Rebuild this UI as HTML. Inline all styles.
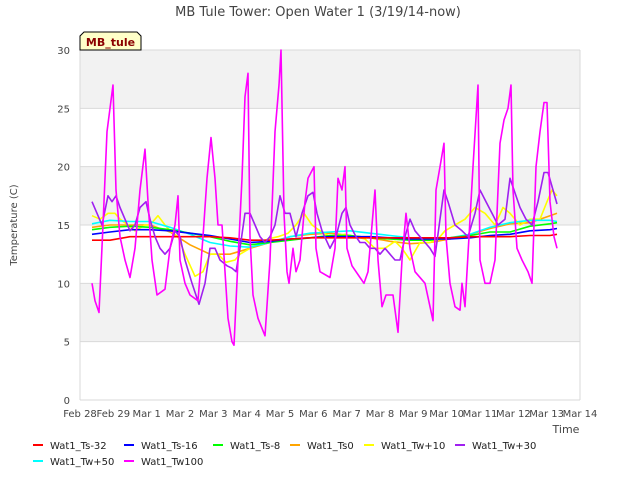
<!DOCTYPE html>
<html><head><meta charset="utf-8"><style>
body{margin:0;background:#fff;font-family:"Liberation Sans",sans-serif}
svg text{font-family:"DejaVu Sans","Liberation Sans",sans-serif}
</style></head><body>
<svg id="c" width="640" height="480" xmlns="http://www.w3.org/2000/svg">
<text x="318" y="16" text-anchor="middle" font-size="13" fill="#444">MB Tule Tower: Open Water 1 (3/19/14-now)</text>
<g id="bands"></g><g id="grid"></g><g id="series"></g><g id="axes"></g>
<text transform="translate(17,225) rotate(-90)" text-anchor="middle" font-size="10" fill="#444">Temperature (C)</text>
<text x="566" y="433" text-anchor="middle" font-size="11" fill="#444">Time</text>
<g><path d="M80,50 L80,36 L84,32 L137,32 L141,36 L141,50 Z" fill="#ffffc8" stroke="#000"/><text x="110.5" y="46" text-anchor="middle" font-size="11" font-weight="bold" fill="#8b0000">MB_tule</text></g>
<g id="legend"></g>
</svg>
<script>
const xLabels=["Feb 28","Feb 29","Mar 1","Mar 2","Mar 3","Mar 4","Mar 5","Mar 6","Mar 7","Mar 8","Mar 9","Mar 10","Mar 11","Mar 12","Mar 13","Mar 14"];
const yTicks=[0,5,10,15,20,25,30];
const tSmooth=[.36,.9,1.5,2.1,2.7,3.3,3.9,4.5,5.1,5.7,6.3,6.9,7.5,8.1,8.7,9.3,9.9,10.5,11.1,11.7,12.3,12.9,13.5,14.1,14.31];
const ts32=[13.7,13.7,14,14,14,14,14,13.9,13.7,13.7,13.8,13.9,13.9,13.9,13.9,13.9,13.9,13.9,13.9,14,14,14,14.1,14.1,14.2];
const ts16=[14.2,14.4,14.6,14.6,14.5,14.3,14.1,13.8,13.5,13.6,13.8,13.9,14,14,14,13.9,13.8,13.8,13.8,13.9,14.1,14.2,14.5,14.6,14.7];
const ts8=[14.6,14.8,14.9,14.8,14.6,14.3,14,13.6,13.3,13.5,13.7,13.9,14.1,14.1,13.9,13.8,13.7,13.7,13.9,14.1,14.4,14.4,14.9,15.1,15.2];
const ts0=[14.8,15,15,15,14.4,13.3,12.5,12.5,13,13.5,14,14.2,14.3,14.1,13.9,13.6,13.4,13.5,13.8,14.2,14.7,15.1,15.2,15.8,16];
const tw50=[15.1,15.4,15.3,15.3,14.8,14.2,13.5,13.2,13.1,13.5,14,14.3,14.4,14.5,14.3,14.1,13.9,13.8,13.9,14.2,14.8,15.2,15.4,15.4,15.3];
const tTw10=[.36,.6,.84,1.05,1.2,1.44,1.65,1.95,2.1,2.34,2.55,2.7,2.94,3.15,3.45,3.69,3.9,4.14,4.38,4.65,4.8,5.1,5.4,5.64,5.94,6.24,6.48,6.72,6.96,7.2,7.5,7.95,8.25,8.55,8.85,9.15,9.45,9.66,9.9,10.2,10.5,10.74,10.95,11.25,11.55,11.85,12.15,12.45,12.69,12.9,13.2,13.5,13.8,14.01,14.16,14.31];
const tw10=[15.8,15.5,16,16,15.5,15,14.5,15,15,15.8,15,14.5,14,12.5,10.6,11,12.5,12.5,11.8,12,12.5,13,13.5,13.8,14,14.3,15,16,15,14.5,14,14.2,14,13.8,13,13,13.6,13,12,13.5,13.5,13.8,14.5,15,15.5,16.5,16,15,16.5,16,15,15.5,15.5,17,18,17.5];
const tTw30=[.36,.51,.66,.84,.96,1.08,1.2,1.35,1.5,1.65,1.8,1.98,2.1,2.25,2.4,2.55,2.7,2.85,3.0,3.15,3.36,3.57,3.75,3.9,4.05,4.2,4.41,4.56,4.68,4.8,4.95,5.1,5.25,5.4,5.55,5.7,5.85,6.0,6.15,6.3,6.48,6.66,6.84,6.99,7.11,7.26,7.5,7.68,7.86,7.98,8.1,8.28,8.4,8.55,8.7,8.85,9.0,9.15,9.3,9.45,9.6,9.75,9.9,10.05,10.2,10.35,10.5,10.65,10.8,10.92,11.04,11.25,11.46,11.64,11.85,12.0,12.18,12.36,12.54,12.75,12.9,13.02,13.2,13.38,13.56,13.74,13.92,14.04,14.19,14.31];
const tw30=[17,16,15,17.5,17,17.5,16.5,15.5,14.5,15,16.5,17,15.5,14,13,12.5,13,14.5,14,12,10,8.2,10,13,13,12,11.5,11.3,11,13,16,16,15,14,13.5,14,15,17.5,16,16,14,16,17.5,17.8,16,14.5,13,14,16,16.5,15,14,13.5,13.5,13,13,12.5,13,12.5,12,12,14,15.5,14.5,14,13.5,13,12.3,15.5,18,17,15,14.5,14,16,18,17,16,15,15.5,19,18,16.5,15.5,15,17,19.5,19.5,18,16.8];
const tTw100=[.36,.45,.57,.69,.81,.9,.99,1.08,1.2,1.35,1.5,1.65,1.8,1.95,2.04,2.16,2.31,2.55,2.7,2.85,2.94,3.0,3.15,3.3,3.54,3.69,3.81,3.93,4.05,4.14,4.26,4.35,4.44,4.56,4.62,4.74,4.86,4.95,5.04,5.1,5.19,5.34,5.55,5.7,5.85,5.97,6.03,6.12,6.21,6.27,6.39,6.48,6.6,6.75,6.84,7.02,7.08,7.2,7.5,7.65,7.74,7.86,7.95,8.01,8.16,8.4,8.52,8.64,8.76,8.85,8.94,9.06,9.18,9.39,9.54,9.66,9.78,9.9,10.05,10.35,10.59,10.68,10.8,10.92,10.98,11.1,11.25,11.4,11.46,11.55,11.67,11.79,11.94,12.0,12.15,12.3,12.45,12.6,12.72,12.84,12.93,12.99,13.11,13.26,13.44,13.56,13.68,13.8,13.92,14.01,14.1,14.22,14.31];
const tw100=[10,8.5,7.5,15,23,25,27,18,14,12,10.5,13,18,21.5,17,12,9,9.5,13,15,17.5,12,10,9,8.5,14,19,22.5,19,15,15,11,7,5,4.7,12,19,26,28,14,9,7,5.5,12,23,27,30,16,11,10,13,11,12,17,19,20,13,11,10.5,13,19,18,20,13,11.5,10.5,10,11,15,18,12,8,9,9,5.8,12,16,13,11,10,6.8,18,20,22,14,10,8,7.7,10,8,14,20,27,12,10,10,12,22,24,25,27,18,13,12,11,10,20,23,25.5,25.5,17,14,13];

const L=80,R=580,T=50,B=400;
const X=t=>L+(R-L)*t/15, Y=v=>B-(B-T)*v/30;
const NS="http://www.w3.org/2000/svg";
function mk(tag,attrs,parent){const e=document.createElementNS(NS,tag);for(const k in attrs)e.setAttribute(k,attrs[k]);document.getElementById(parent).appendChild(e);return e;}
for(let i=0;i<6;i++){const r=mk('rect',{x:L,y:Y(yTicks[i+1]),width:R-L,height:Y(yTicks[i])-Y(yTicks[i+1]),fill:i%2==0?'#ffffff':'#f2f2f2'},'bands');

}
yTicks.forEach(v=>{const l=mk('line',{x1:L,x2:R,y1:Y(v),y2:Y(v),stroke:'#d9d9d9'},'grid');


const t=mk('text',{x:L-10,y:Y(v)+4,'text-anchor':'end','font-size':10,fill:'#444'},'axes');t.textContent=v;

});
const fr=mk('line',{x1:R,x2:R,y1:T,y2:B,stroke:'#d9d9d9'},'grid');


const fl=mk('line',{x1:L,x2:L,y1:T,y2:B,stroke:'#d9d9d9'},'grid');


xLabels.forEach((s,i)=>{const t=mk('text',{x:X(i),y:B+17,'text-anchor':'middle','font-size':10,fill:'#444'},'axes');t.textContent=s;

});
const series=[
 ['Wat1_Ts-32','#ff0000',tSmooth,ts32],['Wat1_Ts-16','#0000ff',tSmooth,ts16],['Wat1_Ts-8','#00ff00',tSmooth,ts8],
 ['Wat1_Ts0','#ffa500',tSmooth,ts0],['Wat1_Tw+10','#ffff00',tTw10,tw10],['Wat1_Tw+30','#a020f0',tTw30,tw30],
 ['Wat1_Tw+50','#00ffff',tSmooth,tw50],['Wat1_Tw100','#ff00ff',tTw100,tw100]];
const drawOrder=[3,4,6,2,1,0,5,7];
drawOrder.forEach(i=>{const s=series[i];const d=s[2].map((t,j)=>(j?'L':'M')+X(t).toFixed(1)+','+Y(s[3][j]).toFixed(1)).join('');
const p=mk('path',{d:d,fill:'none',stroke:s[1],'stroke-width':1.6,'stroke-linejoin':'round'},'series');

});
const lx=[33,124,213,290,364,455,33,124], ly=[445,445,445,445,445,445,461,461];
series.forEach((s,i)=>{const l=mk('line',{x1:lx[i],x2:lx[i]+10,y1:ly[i],y2:ly[i],stroke:s[1],'stroke-width':2},'legend');


const t=mk('text',{x:lx[i]+17,y:ly[i]+4,'font-size':10,fill:'#222'},'legend');t.textContent=s[0];

});
</script>
</body></html>
